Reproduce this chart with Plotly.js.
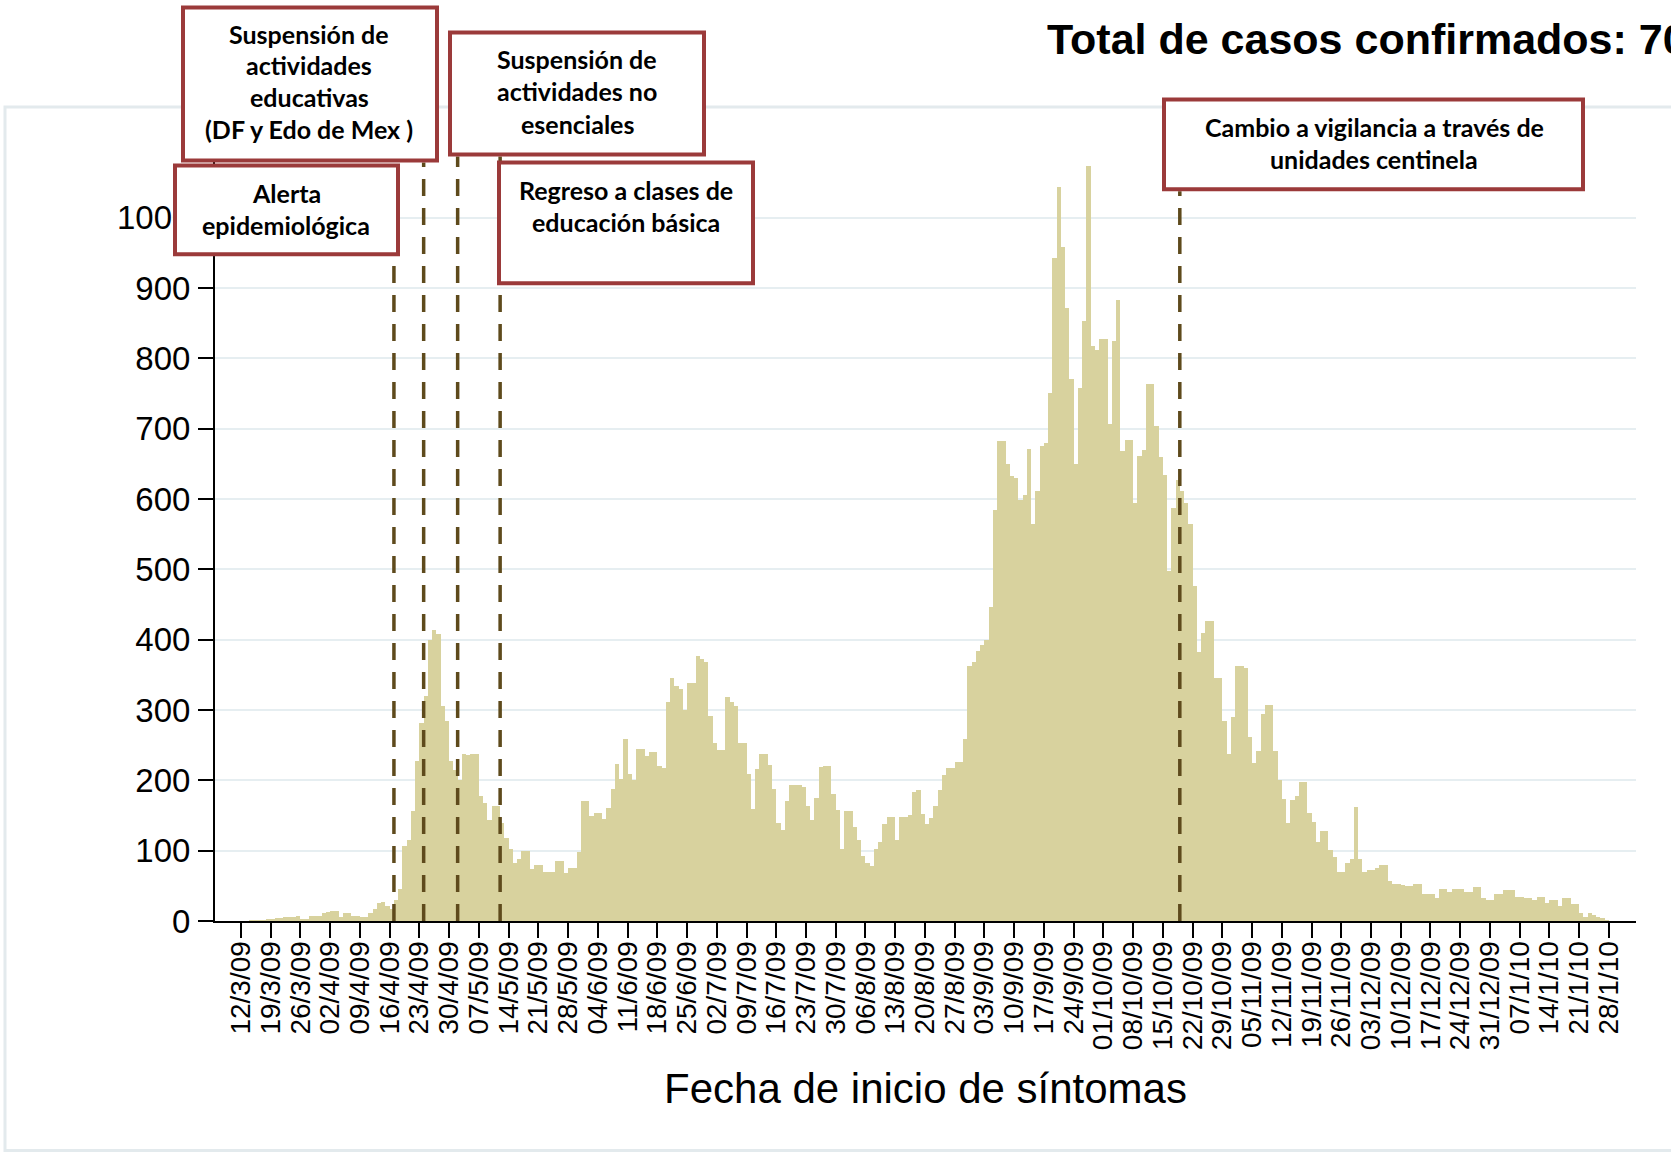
<!DOCTYPE html>
<html><head><meta charset="utf-8">
<script src="https://cdn.plot.ly/plotly-3.0.1.min.js"></script>
<style>html,body{margin:0;padding:0;background:#fff;} #chart{width:1671px;height:1153px;}</style>
</head><body><div id="chart"></div>
<script>
// ---------------- DATA ----------------
const fechaInicial = '2009-03-12';
// casos confirmados por día de inicio de síntomas (desde 12/3/09)
const casos = [
0,0,1,1,2,2,3,3,4,4,
5,5,6,7,3,3,7,7,7,12,
13,14,14,6,12,12,7,7,6,6,
12,17,25,27,21,17,30,45,107,115,
156,228,281,320,400,414,408,306,284,228,
215,200,238,236,238,238,178,168,144,164,
164,139,118,102,83,88,100,100,74,79,
79,69,70,70,86,85,68,75,75,98,
170,170,149,154,154,145,160,187,223,202,
259,209,200,244,244,234,240,240,221,217,
311,346,334,330,300,338,338,377,372,368,
292,253,243,243,319,312,306,253,253,209,
159,216,238,238,222,187,139,130,171,194,
194,194,190,163,144,175,219,221,221,180,
158,102,157,157,133,115,92,82,78,103,
112,138,148,148,115,148,148,150,184,186,
152,138,147,164,186,207,218,218,226,226,
259,362,368,384,392,400,447,585,682,682,
650,632,630,598,606,671,564,611,676,679,
751,943,1044,958,871,770,650,758,853,1073,
818,812,827,827,706,825,883,668,684,684,
594,661,669,764,764,704,660,634,498,587,
627,612,595,564,476,383,410,427,427,345,
345,284,238,290,362,362,360,261,224,242,
295,307,307,242,201,173,139,172,178,197,
197,154,141,113,128,128,101,91,69,69,
83,88,162,88,69,72,72,76,80,79,
57,53,53,51,50,50,52,52,39,38,
38,32,46,46,41,46,46,46,41,41,
49,49,33,30,30,39,39,44,44,44,
34,34,33,33,30,34,34,26,30,30,
22,32,32,24,24,11,6,11,8,5,
4,2
];
const etiquetasX = ['12/3/09','19/3/09','26/3/09','02/4/09','09/4/09','16/4/09','23/4/09','30/4/09',
'07/5/09','14/5/09','21/5/09','28/5/09','04/6/09','11/6/09','18/6/09','25/6/09','02/7/09','09/7/09',
'16/7/09','23/7/09','30/7/09','06/8/09','13/8/09','20/8/09','27/8/09','03/9/09','10/9/09','17/9/09',
'24/9/09','01/10/09','08/10/09','15/10/09','22/10/09','29/10/09','05/11/09','12/11/09','19/11/09',
'26/11/09','03/12/09','10/12/09','17/12/09','24/12/09','31/12/09','07/1/10','14/1/10','21/1/10','28/1/10'];
const fechasEventos = ['2009-04-17','2009-04-24','2009-05-02','2009-05-12','2009-10-19'];
const textosEventos = [
  ['Alerta','epidemiológica'],
  ['Suspensión de','actividades','educativas','(DF y Edo de Mex )'],
  ['Suspensión de','actividades no','esenciales'],
  ['Regreso a clases de','educación básica'],
  ['Cambio a vigilancia a través de','unidades centinela']
];
const tituloTotal = 'Total de casos confirmados: 70';
const tituloX = 'Fecha de inicio de síntomas';
const ticksY = [0,100,200,300,400,500,600,700,800,900,1000];

// ---------------- HELPERS ----------------
function addDays(s, n){const d=new Date(s+'T00:00:00Z'); d.setUTCDate(d.getUTCDate()+n); return d.toISOString().slice(0,10);}
function labelToDate(l){const p=l.split('/'); const dd=('0'+p[0]).slice(-2), mm=('0'+p[1]).slice(-2); return '20'+p[2]+'-'+mm+'-'+dd;}
const fechas = casos.map((v,i)=>addDays(fechaInicial,i));
const tickVals = etiquetasX.map(labelToDate);

// ---------------- GEOMETRY ----------------
const W=1671, H=1153, L=215, R=1636, T=147.6, B=921.3;
const px2x = p => (p-L)/(R-L);
const px2y = p => (B-p)/(B-T);

const red = '#9b3a3a';
const boxes = [ // [x0,y0,x1,y1] in px, lines y centers, x center
  {r:[173,163,400,256], cx:286, ys:[193,225]},
  {r:[181,5,439,162], cx:309, ys:[33,65,97,129]},
  {r:[448,30,706,156], cx:577, ys:[59,91,124]},
  {r:[497,160,755,285], cx:626, ys:[190,222]},
  {r:[1162,97,1585,191], cx:1374, ys:[127,159]}
];
const lineTops = [256,162,156,156,191];

const shapes = [];
// outer frame
shapes.push({type:'rect', xref:'paper', yref:'paper', x0:px2x(5), x1:px2x(1720), y0:px2y(1151), y1:px2y(106.5),
  line:{color:'#e3eaed', width:3}, fillcolor:'rgba(0,0,0,0)', layer:'below'});
// dashed event lines
fechasEventos.forEach((d,i)=>{
  shapes.push({type:'line', xref:'x', yref:'paper', x0:d, x1:d, y0:0, y1:px2y(lineTops[i]),
    line:{color:'#5e4a1c', width:3.5, dash:'17px,12px'}, layer:'above'});
});
// boxes
const annotations = [];
[1,2,0,3,4].forEach(i=>{
  const b = boxes[i];
  shapes.push({type:'rect', xref:'paper', yref:'paper', x0:px2x(b.r[0]+2), x1:px2x(b.r[2]-2), y0:px2y(b.r[3]-2), y1:px2y(b.r[1]+2),
    line:{color:red, width:4}, fillcolor:'#ffffff', layer:'above'});
  textosEventos[i].forEach((t,k)=>{
    annotations.push({xref:'paper', yref:'paper', x:px2x(b.cx), y:px2y(b.ys[k]), text:'<b>'+t+'</b>', showarrow:false,
      xanchor:'center', yanchor:'middle', font:{family:'Lato, Open Sans, sans-serif', size:25, color:'#000'}});
  });
});

const trace = {
  type:'bar', x:fechas, y:casos, xperiod:86400000, xperiodalignment:'middle',
  marker:{color:'#d8d29e', line:{width:0}}, hoverinfo:'skip'
};

const font = 'Liberation Sans, Arial, sans-serif';
const layout = {
  width:W, height:H, margin:{l:L, r:W-R, t:T, b:H-B}, paper_bgcolor:'#fff', plot_bgcolor:'#fff',
  bargap:0, showlegend:false,
  title:{text:'<b>'+tituloTotal+'</b>', font:{family:font, size:43, color:'#000'}, xref:'container', yref:'container',
    x:1047/W, xanchor:'left', y:1-39/H, yanchor:'middle'},
  xaxis:{type:'date', range:['2009-03-05 21:07','2010-02-03 09:21'], tickmode:'array', tickvals:tickVals, ticktext:etiquetasX,
    tickangle:-90, tickfont:{family:font, size:28, color:'#000'}, ticks:'outside', ticklen:15, tickwidth:2, tickcolor:'#000',
    showline:true, linecolor:'#000', linewidth:2, showgrid:false, zeroline:false, automargin:false, ticklabelstandoff:-8,
    title:{text:tituloX, font:{family:font, size:42, color:'#000'}, standoff:24}},
  yaxis:{range:[0,1099], tickmode:'array', tickvals:ticksY, ticktext:ticksY.map(String), tickfont:{family:font, size:33, color:'#000'},
    ticks:'outside', ticklen:15, tickwidth:2, tickcolor:'#000', showline:true, linecolor:'#000', linewidth:2,
    showgrid:true, gridcolor:'#e6eef1', gridwidth:2, zeroline:false, automargin:false, ticklabelstandoff:1},
  shapes:shapes, annotations:annotations
};
Plotly.newPlot('chart',[trace],layout,{staticPlot:true});
</script>
</body></html>
